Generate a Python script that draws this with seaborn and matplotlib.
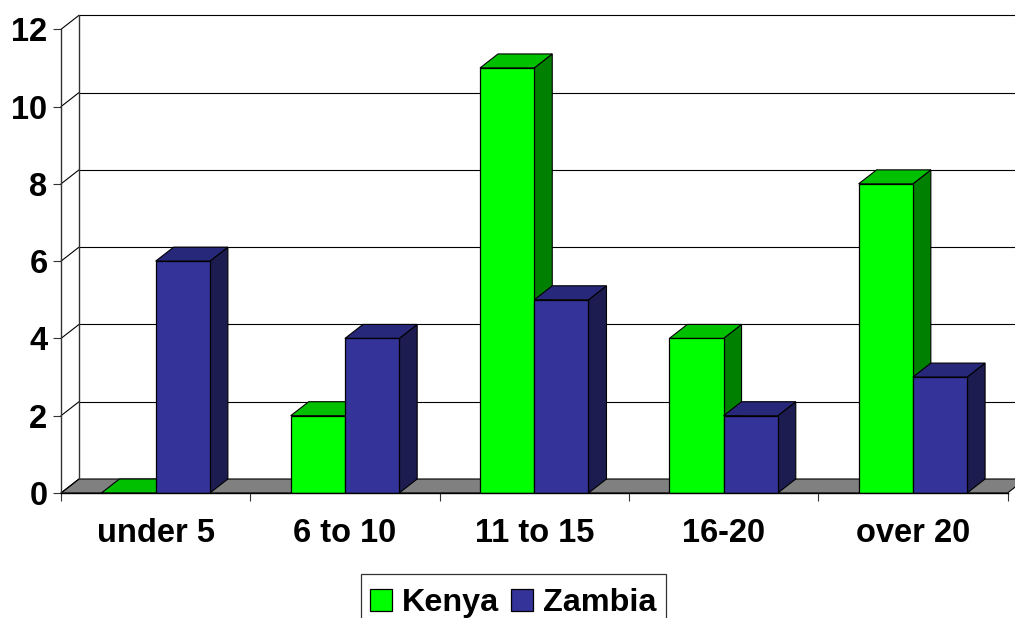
import matplotlib
matplotlib.use("Agg")
import matplotlib.pyplot as plt
from matplotlib.patches import Polygon
import pandas as pd
import seaborn as sns

categories = ["under 5", "6 to 10", "11 to 15", "16-20", "over 20"]
kenya = [0, 2, 11, 4, 8]
zambia = [6, 4, 5, 2, 3]
yticks = [0, 2, 4, 6, 8, 10, 12]

FRONT = {"Kenya": "#00FF00", "Zambia": "#333399"}
TOP = {"Kenya": "#00C000", "Zambia": "#28287A"}
SIDE = {"Kenya": "#008000", "Zambia": "#1C1C50"}

W, H = 1015, 618
sns.set_theme(style="white")
plt.rcParams["font.family"] = ["Liberation Sans", "DejaVu Sans"]
plt.rcParams["font.weight"] = "bold"

df = pd.DataFrame({
    "category": categories * 2,
    "value": kenya + zambia,
    "country": ["Kenya"] * len(categories) + ["Zambia"] * len(categories),
})

fig = plt.figure(figsize=(W / 100, H / 100), dpi=100, facecolor="white")
x0, x1, y0, y1 = 61, 1007.5, 493, 29.3
ax = fig.add_axes([x0 / W, 1 - y0 / H, (x1 - x0) / W, (y0 - y1) / H])

sns.barplot(data=df, x="category", y="value", hue="country", palette=FRONT,
            hue_order=["Kenya", "Zambia"], order=categories, width=0.573, gap=0,
            saturation=1, edgecolor="black", linewidth=0.9, ax=ax, zorder=4)
ax.set_xlim(-0.5, 4.5)
ax.set_ylim(0, 12)
ax.set_xlabel("")
ax.set_ylabel("")
ax.set_facecolor("none")

# depth of the 3-D box, in data units
dx = 18 / ((x1 - x0) / 5)
dy = 14 / ((y0 - y1) / 12)
xl, xr = -0.5, 4.5
LW = 0.8

# floor
ax.add_patch(Polygon([(xl, 0), (xr, 0), (xr + dx, dy), (xl + dx, dy)], closed=True,
                     facecolor="#808080", edgecolor="black", linewidth=LW,
                     clip_on=False, zorder=1))
# back wall and side wall
for v in yticks:
    if v > 0:
        ax.plot([xl + dx, xr + dx], [v + dy, v + dy], color="black", lw=LW,
                clip_on=False, zorder=1)
    ax.plot([xl, xl + dx], [v, v + dy], color="black", lw=LW, clip_on=False, zorder=1)
ax.plot([xl + dx, xl + dx], [dy, 12 + dy], color="#333333", lw=1.0, clip_on=False, zorder=1)

# bar depth faces
for k, (name, container) in enumerate(zip(["Kenya", "Zambia"], ax.containers)):
    for bar in container:
        a, b = bar.get_x(), bar.get_x() + bar.get_width()
        h = bar.get_height()
        bar.set_zorder(4 + 2 * k)
        ax.add_patch(Polygon([(b, 0), (b + dx, dy), (b + dx, h + dy), (b, h)], closed=True,
                             facecolor=SIDE[name], edgecolor="black", linewidth=LW,
                             clip_on=False, zorder=3 + 2 * k))
        ax.add_patch(Polygon([(a, h), (b, h), (b + dx, h + dy), (a + dx, h + dy)], closed=True,
                             facecolor=TOP[name], edgecolor="black", linewidth=LW,
                             clip_on=False, zorder=3 + 2 * k))

for s in ["top", "right"]:
    ax.spines[s].set_visible(False)
ax.spines["left"].set_color("#333333")
ax.spines["left"].set_linewidth(1.0)
ax.spines["bottom"].set_color("black")
ax.spines["bottom"].set_linewidth(1.0)
ax.spines["bottom"].set_zorder(8)

ax.set_yticks(yticks)
ax.set_xticks([-0.5, 0.5, 1.5, 2.5, 3.5, 4.5])
ax.set_xticklabels([])
ax.set_xticks(range(len(categories)), labels=categories, minor=True)
ax.tick_params(axis="y", which="major", left=True, length=5.8, width=0.8, color="#333333",
               labelsize=23.5, pad=4, labelcolor="black")
ax.tick_params(axis="x", which="major", bottom=True, length=5.8, width=0.8, color="#333333")
ax.tick_params(axis="x", which="minor", bottom=False, length=0, labelsize=23.5, pad=18,
               labelcolor="black")

handles, labels = ax.get_legend_handles_labels()
leg = ax.legend(handles, labels, loc="upper left", ncol=2,
                bbox_to_anchor=(360.7 / W, 1 - 573.7 / H), bbox_transform=fig.transFigure,
                fontsize=23.3, labelcolor="black", frameon=True, fancybox=False, framealpha=1,
                edgecolor="#333333", borderpad=0.3, borderaxespad=0, handlelength=0.67,
                handleheight=0.64, handletextpad=0.31, columnspacing=0.36, labelspacing=0,
                title=" ", title_fontsize=3.5)
leg.get_frame().set_linewidth(0.9)
leg.set_zorder(10)
leg.set_clip_on(False)

fig.savefig("out.png", dpi=100)
